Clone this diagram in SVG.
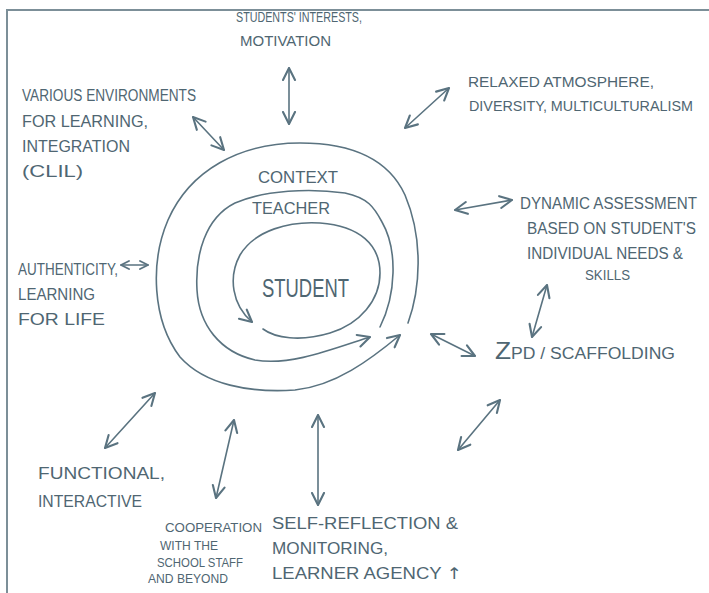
<svg xmlns="http://www.w3.org/2000/svg" width="709" height="593" viewBox="0 0 709 593">
<style>
.lbl{font-family:"Liberation Sans","DejaVu Sans",sans-serif;font-size:16px;fill:#4f6672}
.sm{font-size:15px}
.xs{font-size:13px}
.s14{font-size:14px}
.big{font-size:26px}
.ln{fill:none;stroke:#5a7380;stroke-width:1.6;stroke-linecap:round;stroke-linejoin:round}
.dbl{marker-start:url(#ah);marker-end:url(#ah)}
.one{marker-end:url(#ah)}
</style>
<defs>
<marker id="ah" markerUnits="userSpaceOnUse" markerWidth="15" markerHeight="15" viewBox="0 0 10 10" refX="9" refY="5" orient="auto-start-reverse">
<path d="M1,1 L9,5 L1,9" fill="none" stroke="#5a7380" stroke-width="1.4" stroke-linecap="round" stroke-linejoin="round"/>
</marker>
<marker id="ahs" markerUnits="userSpaceOnUse" markerWidth="10" markerHeight="10" viewBox="0 0 10 10" refX="9" refY="5" orient="auto-start-reverse">
<path d="M1,1 L9,5 L1,9" fill="none" stroke="#5a7380" stroke-width="1.8" stroke-linecap="round" stroke-linejoin="round"/>
</marker>
</defs>
<rect width="709" height="593" fill="#ffffff"/>
<path d="M7,593 L7,10 L709,10" fill="none" stroke="#7c8f98" stroke-width="2"/>
<g id="connectors">
<path id="loop-context" class="ln one" d="M408,323 C420,290 424,240 405,195 C388,158 350,143 300,143 C240,143 190,170 168,220 C150,262 152,320 180,357 C205,385 250,393 295,390 C335,386 370,360 400,335"/>
<path id="loop-teacher" class="ln one" d="M380,327 C396,295 398,250 382,222 C374,207 368,198 345,193 C310,188 265,190 235,203 C205,218 195,255 197,290 C199,325 220,352 255,360 C290,366 330,350 370,337"/>
<path id="loop-student" class="ln one" d="M263,329 C275,338 300,342 330,333 C360,324 380,300 380,273 C380,245 360,226 320,223 C290,221 255,230 240,255 C228,277 232,305 252,322"/>
<path class="ln dbl" d="M289,68 L289,124"/>
<path class="ln dbl" d="M193,117 L224,150"/>
<path class="ln dbl" d="M449,88 L405,128"/>
<path class="ln dbl" d="M455,210 L512,200"/>
<path class="ln dbl" d="M547,285 L532,337"/>
<path class="ln" marker-start="url(#ahs)" marker-end="url(#ahs)" d="M121,265 L148,265"/>
<path class="ln dbl" d="M431,334 L475,356"/>
<path class="ln dbl" d="M500,400 L458,450"/>
<path class="ln dbl" d="M105,448 L155,393"/>
<path class="ln dbl" d="M234,420 L216,498"/>
<path class="ln dbl" d="M318,415 L318,505"/>
</g>
<g id="interests"><text class="lbl sm" x="236" y="22" textLength="126" lengthAdjust="spacingAndGlyphs">STUDENTS' INTERESTS,</text><text class="lbl sm" x="240" y="46" textLength="91" lengthAdjust="spacingAndGlyphs">MOTIVATION</text></g>
<g id="environments"><text class="lbl" x="22" y="101" textLength="174" lengthAdjust="spacingAndGlyphs">VARIOUS ENVIRONMENTS</text><text class="lbl" x="22" y="127" textLength="126" lengthAdjust="spacingAndGlyphs">FOR LEARNING,</text><text class="lbl" x="22" y="152" textLength="108" lengthAdjust="spacingAndGlyphs">INTEGRATION</text><text class="lbl" x="22" y="177" textLength="61" lengthAdjust="spacingAndGlyphs">(CLIL)</text></g>
<g id="atmosphere"><text class="lbl sm" x="468" y="87" textLength="186" lengthAdjust="spacingAndGlyphs">RELAXED ATMOSPHERE,</text><text class="lbl s14" x="469" y="111" textLength="224" lengthAdjust="spacingAndGlyphs">DIVERSITY, MULTICULTURALISM</text></g>
<g id="context"><text class="lbl" x="258" y="183" textLength="80" lengthAdjust="spacingAndGlyphs">CONTEXT</text></g>
<g id="teacher"><text class="lbl" x="252" y="214" textLength="78" lengthAdjust="spacingAndGlyphs">TEACHER</text></g>
<g id="student"><text class="lbl big" x="262" y="297" textLength="87" lengthAdjust="spacingAndGlyphs">STUDENT</text></g>
<g id="assessment"><text class="lbl" x="520" y="209" textLength="177" lengthAdjust="spacingAndGlyphs">DYNAMIC ASSESSMENT</text><text class="lbl" x="527" y="234" textLength="169" lengthAdjust="spacingAndGlyphs">BASED ON STUDENT'S</text><text class="lbl" x="527" y="259" textLength="156" lengthAdjust="spacingAndGlyphs">INDIVIDUAL NEEDS &amp;</text><text class="lbl sm" x="585" y="280" textLength="45" lengthAdjust="spacingAndGlyphs">SKILLS</text></g>
<g id="authenticity"><text class="lbl" x="18" y="275" textLength="100" lengthAdjust="spacingAndGlyphs">AUTHENTICITY,</text><text class="lbl" x="18" y="300" textLength="77" lengthAdjust="spacingAndGlyphs">LEARNING</text><text class="lbl" x="18" y="325" textLength="87" lengthAdjust="spacingAndGlyphs">FOR LIFE</text></g>
<g id="zpd"><text class="lbl" x="495" y="359" textLength="180" lengthAdjust="spacingAndGlyphs"><tspan font-size="24">Z</tspan>PD / SCAFFOLDING</text></g>
<g id="functional"><text class="lbl" x="38" y="479" textLength="127" lengthAdjust="spacingAndGlyphs">FUNCTIONAL,</text><text class="lbl" x="38" y="507" textLength="104" lengthAdjust="spacingAndGlyphs">INTERACTIVE</text></g>
<g id="cooperation"><text class="lbl xs" x="165" y="532" textLength="97" lengthAdjust="spacingAndGlyphs">COOPERATION</text><text class="lbl xs" x="160" y="550" textLength="58" lengthAdjust="spacingAndGlyphs">WITH THE</text><text class="lbl xs" x="157" y="567" textLength="86" lengthAdjust="spacingAndGlyphs">SCHOOL STAFF</text><text class="lbl xs" x="148" y="583" textLength="80" lengthAdjust="spacingAndGlyphs">AND BEYOND</text></g>
<g id="reflection"><text class="lbl" x="272" y="529" textLength="186" lengthAdjust="spacingAndGlyphs">SELF-REFLECTION &amp;</text><text class="lbl" x="272" y="554" textLength="116" lengthAdjust="spacingAndGlyphs">MONITORING,</text><text class="lbl" x="272" y="579" textLength="190" lengthAdjust="spacingAndGlyphs">LEARNER AGENCY <tspan font-family="DejaVu Sans, sans-serif">↑</tspan></text></g>
</svg>
